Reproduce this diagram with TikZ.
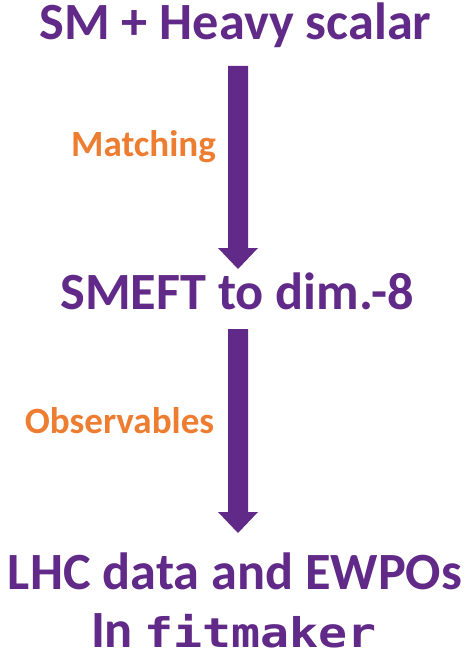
\documentclass[tikz,border=0pt]{standalone}
\usepackage{fontspec}
\setmainfont{Carlito}
\newfontfamily\codefont[FakeStretch=1.18]{DejaVu Sans Mono}
\usetikzlibrary{arrows.meta}
\definecolor{flowpurple}{RGB}{97,41,136}
\definecolor{steporange}{RGB}{237,125,49}
\begin{document}
\begin{tikzpicture}[x=1bp,y=-1bp,
  stage/.style={font=\fontsize{52.5}{60}\selectfont\bfseries, text=flowpurple,
                inner sep=0pt, anchor=base},
  action/.style={font=\fontsize{37.2}{44}\selectfont\bfseries, text=steporange,
                 inner sep=0pt, anchor=base},
  flow/.style={draw=flowpurple, line width=20bp,
               -{Triangle[width=40bp,length=21bp,line width=0pt]}}]
\useasboundingbox (0,0) rectangle (469,659);

% stages of the workflow
\node[stage] (model) at (235.5,40) {SM + Heavy scalar};
\node[stage] (smeft) at (237,309) {SMEFT to dim.-8};
\node[stage] (data)  at (235,589) {LHC data and EWPOs};
\node[stage, text depth=0pt] (tool) at (234,647)
  {In {\codefont\fontsize{41}{48}\selectfont\bfseries fitmaker}};

% steps between them
\draw[flow] ([xshift=2.5bp,yshift=-26bp]model.base) -- ([xshift=1bp,yshift=40bp]smeft.base);
\draw[flow] ([xshift=1bp,yshift=-20bp]smeft.base) -- ([xshift=3bp,yshift=56bp]data.base);

\node[action] (match) at (143.5,156) {Matching};
\node[action] (obs)   at (119.5,433) {Observables};
\end{tikzpicture}
\end{document}
